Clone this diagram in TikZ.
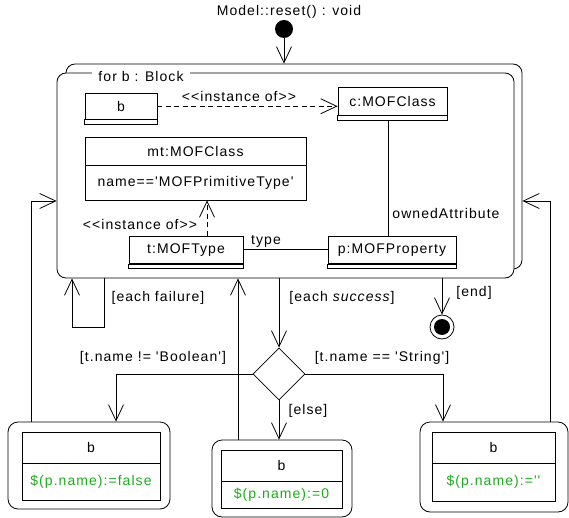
\documentclass[tikz,border=0pt]{standalone}
\usepackage{fontspec}
\setmainfont{Liberation Sans}[Ligatures=TeXOff, LetterSpace=7.5]
\usetikzlibrary{arrows.meta, shapes.geometric, calc}
\definecolor{assign}{RGB}{30,170,30}

\begin{document}
\begin{tikzpicture}[x=1pt, y=-1pt,
  every node/.style={font=\fontsize{14}{16}\selectfont, inner sep=0pt},
  line/.style={line width=0.8pt},
  flow/.style={line, -{Straight Barb[length=16pt,width=15pt]}},
  dep/.style={flow, dash pattern=on 5pt off 3.5pt},
  objbox/.style={draw, line, rectangle},
  region/.style={draw, line, rounded corners=9pt},
  action/.style={draw, line, rounded corners=10pt},
  code/.style={text=assign}
]
\useasboundingbox (0,0) rectangle (569,518);

% operation name and initial node
\node (title) at (289,12) {Model::reset() : void};
\node[circle, fill, minimum size=18pt] (init) at (284,29) {};

% expansion region (stacked outline)
\node[region, minimum width=456pt, minimum height=205pt] (loopback) at (294,166.5) {};
\node[region, fill=white, minimum width=457pt, minimum height=205pt] (loop) at (285.5,175.5) {};
\node[fill=white, inner xsep=6pt, inner ysep=1pt] (loopname) at (141,76) {for b : Block};

% object pattern inside the region
\node[objbox, minimum width=72pt, minimum height=26.5pt] (b) at (121,106.25) {b};
\draw[line] (b.south west) rectangle ([yshift=-4.5pt]b.south east);

\node[objbox, minimum width=109pt, minimum height=28.5pt] (c) at (392.5,101.25) {c:MOFClass};
\draw[line] (c.south west) rectangle ([yshift=-4.5pt]c.south east);

\node[objbox, minimum width=221pt, minimum height=28pt] (mt) at (195.5,151) {mt:MOFClass};
\node[objbox, minimum width=221pt, minimum height=35pt] (mtattr) at (195.5,182.5) {name=='MOFPrimitiveType'};

\node[objbox, minimum width=114pt, minimum height=27.5pt] (t) at (186,249.75) {t:MOFType};
\draw[line] (t.south west) rectangle ([yshift=-4.5pt]t.south east);

\node[objbox, minimum width=128pt, minimum height=27.5pt] (p) at (392,249.75) {p:MOFProperty};
\draw[line] (p.south west) rectangle ([yshift=-4.5pt]p.south east);

\draw[dep] (b.east) -- (b.east -| c.west);
\node (inst1) at (239,96) {<<instance of>>};

\draw[dep] ($(t.north)+(21,0)$) coordinate (tdep) -- (tdep |- mtattr.south);
\node (inst2) at (140,224) {<<instance of>>};

\draw[line] ($(c.south)+(-4,4.5)$) coordinate (cown) -- (cown |- p.north);
\node (owned) at (446,213) {ownedAttribute};

\draw[line] (t.east) -- (p.west);
\node (typelbl) at (266,241) {type};

% control nodes below the region
\node[diamond, draw, line, minimum width=52pt, minimum height=52pt] (dec) at (279,374) {};
\node[circle, draw, line, minimum size=24pt] (fin) at (442,327) {};
\fill (fin.center) circle (8pt);

% assignment actions
\node[action, minimum width=162pt, minimum height=87pt] (actF) at (89,465.5) {};
\node[objbox, minimum width=138pt, minimum height=31pt] (bF) at (91,447.5) {b};
\node[objbox, code, minimum width=138pt, minimum height=37pt] (aF) at (91,481.5) {\$(p.name):=false};

\node[action, minimum width=140pt, minimum height=77pt] (actZ) at (282,478.5) {};
\node[objbox, minimum width=121pt, minimum height=31pt] (bZ) at (281.5,465.5) {b};
\node[objbox, code, minimum width=121pt, minimum height=27pt] (aZ) at (281.5,494.5) {\$(p.name):=0};

\node[action, minimum width=148pt, minimum height=90pt] (actS) at (494,467) {};
\node[objbox, minimum width=123pt, minimum height=31pt] (bS) at (493.5,447.5) {b};
\node[objbox, code, minimum width=123pt, minimum height=38pt] (aS) at (493.5,482) {\$(p.name):=''};

% flows
\draw[flow] (init) -- (init |- loopback.north);

\draw[flow] (dec.north |- loop.south) -- (dec.north);
\node (succ) at (342,298) {[each \textit{success}]};

\draw[flow] (fin.north |- loop.south) -- (fin.north);
\node (endlbl) at (474,293) {[end]};

\draw[flow] ($(loop.south)+(-181.5,0)$) -- ++(0,49) -| ($(loop.south)+(-213.5,0)$);
\node (fail) at (158,298) {[each failure]};

\draw[flow] (dec.west) -| ($(actF.north)+(27,0)$);
\node (gbool) at (153,358) {[t.name != 'Boolean']};

\draw[flow] (dec.east) -| ($(actS.north)+(-51,0)$);
\node (gstr) at (382,358) {[t.name == 'String']};

\draw[flow] (dec.south) -- (dec.south |- actZ.north);
\node (gelse) at (308,411) {[else]};

\coordinate (yRet) at (0,201);
\draw[flow] ($(actZ.north)+(-44,0)$) coordinate (zret) -- (zret |- loop.south);
\draw[flow] ($(actF.north)+(-58,0)$) |- (loop.west |- yRet);
\draw[flow] ($(actS.north)+(56,0)$) |- (loopback.east |- yRet);
\end{tikzpicture}
\end{document}
